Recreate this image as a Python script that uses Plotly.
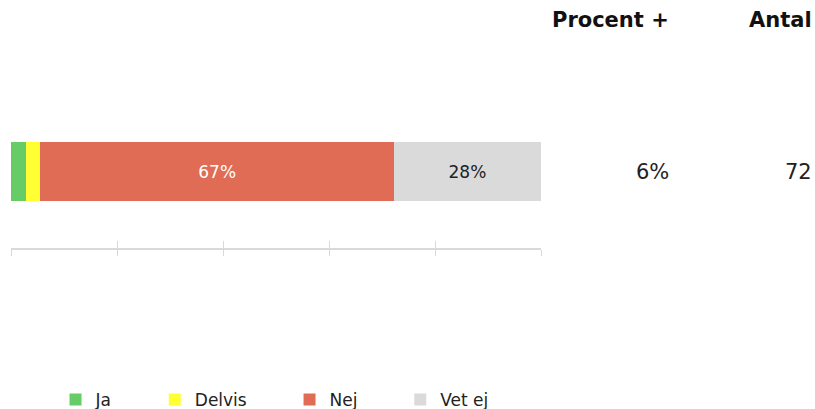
import plotly.graph_objects as go

categories = [""]
series_names = ["Ja", "Delvis", "Nej", "Vet ej"]
series_values = [[2.78], [2.78], [66.67], [27.78]]
series_colors = ["#66cc66", "#ffff33", "#e06c55", "#dadada"]
text_colors = ["#222222", "#222222", "#ffffff", "#222222"]
procent_plus = ["6%"]
antal = ["72"]
tick_vals = [0, 20, 40, 60, 80, 100]

FONT = "DejaVu Sans"
NB = "\u00a0"

fig = go.Figure()
for name, vals, col, tc in zip(series_names, series_values, series_colors, text_colors):
    labels = [f"{round(v)}%" if v >= 10 else "" for v in vals]
    fig.add_trace(go.Bar(
        y=[0], x=vals, orientation="h", name=name + NB * 7,
        marker=dict(color=col, line=dict(width=0)),
        text=labels, textposition="inside", insidetextanchor="middle",
        textfont=dict(color=tc, size=17, family=FONT),
        width=0.77, hoverinfo="skip",
    ))

fig.add_trace(go.Scatter(x=[0, 100], y=[0, 0], xaxis="x2", mode="markers",
                         marker=dict(opacity=0), showlegend=False, hoverinfo="skip"))

fig.update_layout(
    width=815, height=409,
    barmode="stack",
    plot_bgcolor="white", paper_bgcolor="white",
    margin=dict(l=11, r=274, t=95, b=161),
    font=dict(family=FONT, color="#222222"),
    xaxis=dict(range=[0, 100], tickvals=tick_vals, showticklabels=False,
               ticks="outside", ticklen=6, tickcolor="#d9d9d9", tickwidth=1,
               showline=True, linecolor="#d9d9d9", linewidth=2,
               showgrid=False, zeroline=False, fixedrange=True),
    xaxis2=dict(range=[0, 100], tickvals=tick_vals, showticklabels=False,
                ticks="inside", ticklen=7, tickcolor="#d9d9d9", tickwidth=1,
                overlaying="x", side="bottom", anchor="y",
                showline=False, showgrid=False, zeroline=False),
    yaxis=dict(range=[-1, 1], visible=False, fixedrange=True),
    legend=dict(orientation="h", x=0.084, xanchor="left",
                yref="container", y=9 / 409, yanchor="middle",
                font=dict(size=17, family=FONT, color="#222222"),
                traceorder="normal", itemclick=False),
    showlegend=True,
)

hdr_x = [(671 - 11) / 530, (814 - 11) / 530]
for xp, txt in zip(hdr_x, ["Procent +", "Antal"]):
    fig.add_annotation(x=xp, xref="paper", y=(248 - 20) / 153, yref="paper", text=f"<b>{txt}</b>",
                       showarrow=False, xanchor="right", yanchor="middle",
                       font=dict(size=21, family=FONT, color="#111111"))
for xp, col in zip(hdr_x, [procent_plus, antal]):
    for i, v in enumerate(col):
        fig.add_annotation(x=xp, xref="paper", y=i, yref="y", text=v,
                           showarrow=False, xanchor="right", yanchor="middle",
                           font=dict(size=21, family=FONT, color="#222222"))

fig.write_html("out.html", config={"displayModeBar": False},
               post_script="document.body.style.margin='0';document.body.style.overflow='hidden';")
